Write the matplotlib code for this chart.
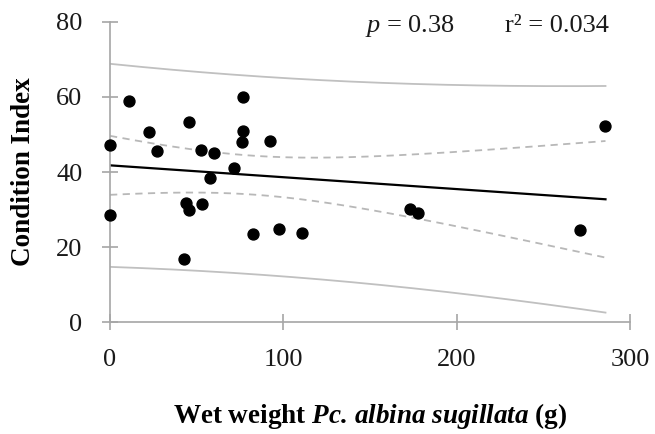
import numpy as np
import matplotlib
matplotlib.use("Agg")
import matplotlib.pyplot as plt

plt.rcParams['font.family'] = ['Liberation Serif', 'DejaVu Serif']
plt.rcParams['mathtext.fontset'] = 'custom'
plt.rcParams['mathtext.rm'] = 'Liberation Serif'
plt.rcParams['mathtext.it'] = 'Liberation Serif:italic'
plt.rcParams['mathtext.bf'] = 'Liberation Serif:bold'
plt.rcParams['mathtext.bfit'] = 'Liberation Serif:italic:bold'

# wet weight (g) and condition index
wet_weight = [0, 0, 11.0, 22.7, 27.3, 42.6, 43.9, 45.8, 45.8, 52.3, 53.3, 57.7, 60.0,
              71.7, 75.9, 76.6, 76.9, 82.4, 92.3, 97.7, 110.6, 173.1, 177.9, 271.2, 285.8]
condition = [47.2, 28.7, 59.0, 50.6, 45.7, 16.9, 31.7, 29.9, 53.2, 45.9, 31.5, 38.4, 45.1,
             41.2, 47.9, 60.0, 51.0, 23.4, 48.3, 24.8, 23.7, 30.1, 29.0, 24.5, 52.2]
x_ticks = [0, 100, 200, 300]
y_ticks = [0, 20, 40, 60, 80]
t_crit = 2.069  # t(0.975, df=23)

x = np.array(wet_weight)
y = np.array(condition)
n = len(x)
slope, intercept = np.polyfit(x, y, 1)
resid = y - (intercept + slope * x)
s = np.sqrt(np.sum(resid ** 2) / (n - 2))
sxx = np.sum((x - x.mean()) ** 2)
xs = np.linspace(0, x.max(), 200)
fit = intercept + slope * xs
ci = t_crit * s * np.sqrt(1 / n + (xs - x.mean()) ** 2 / sxx)
pi = t_crit * s * np.sqrt(1 + 1 / n + (xs - x.mean()) ** 2 / sxx)

fig = plt.figure(figsize=(6.55, 4.34), dpi=100)
ax = fig.add_axes([0.168, 0.257, 0.794, 0.693])

ax.plot(xs, fit + pi, color='#c0c0c0', lw=1.3)
ax.plot(xs, fit - pi, color='#c0c0c0', lw=1.3)
ax.plot(xs, fit + ci, color='#b8b8b8', lw=1.3, ls=(0, (4, 3)))
ax.plot(xs, fit - ci, color='#b8b8b8', lw=1.3, ls=(0, (4, 3)))
ax.plot(xs, fit, color='black', lw=1.6)
ax.scatter(x, y, s=62, color='black', zorder=5, clip_on=False)

ax.set_xlim(0, 300)
ax.set_ylim(0, 80)
ax.set_xticks(x_ticks)
ax.set_yticks(y_ticks)
for side in ['top', 'right']:
    ax.spines[side].set_visible(False)
for side in ['left', 'bottom']:
    ax.spines[side].set_color('#a6a6a6')
    ax.spines[side].set_linewidth(1.2)
ax.tick_params(axis='both', direction='inout', length=12, width=1.2, color='#a6a6a6',
               labelsize=19, labelcolor='#1a1a1a')
ax.tick_params(axis='y', pad=14)
ax.tick_params(axis='x', pad=13)

ax.set_ylabel('Condition Index', fontsize=19.5, fontweight='bold', labelpad=14)
ax.set_xlabel(r'Wet weight $\mathbfit{Pc.\,albina\ sugillata}$ (g)', fontsize=19.5,
              fontweight='bold', labelpad=22)

ax.text(0.49, 0.985, r'$\it{p}$ = 0.38', transform=ax.transAxes, fontsize=19,
        ha='left', va='center', color='#1a1a1a')
ax.text(0.96, 0.985, 'r² = 0.034', transform=ax.transAxes, fontsize=19,
        ha='right', va='center', color='#1a1a1a')

fig.savefig('out.png', dpi=100)
